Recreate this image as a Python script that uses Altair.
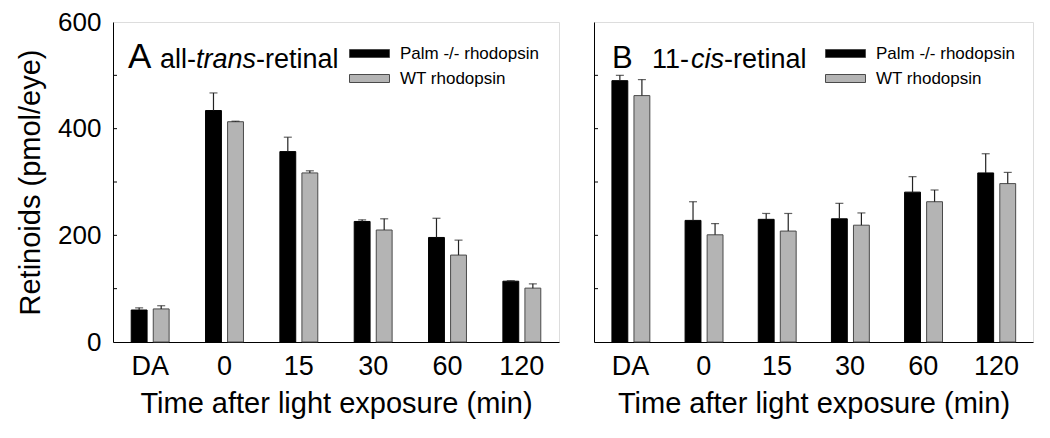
import altair as alt
import pandas as pd

times = ["DA", "0", "15", "30", "60", "120"]
groups = ["Palm -/- rhodopsin", "WT rhodopsin"]

a_palm = [60, 434, 357, 226, 196, 114]
a_palm_err = [4, 33, 27, 3, 36, 1]
a_wt = [62, 413, 317, 210, 163, 101]
a_wt_err = [6, 1, 4, 21, 28, 8]

b_palm = [490, 228, 230, 231, 281, 317]
b_palm_err = [10, 35, 11, 29, 29, 36]
b_wt = [462, 201, 208, 219, 263, 297]
b_wt_err = [30, 21, 33, 23, 22, 21]

minor_ticks = [100, 200, 300, 400, 500]
y_labels = [0, 200, 400, 600]

FONT = "Liberation Sans"


def make_df(palm, palm_err, wt, wt_err):
    rows = []
    for i, t in enumerate(times):
        rows.append({"time": t, "group": groups[0], "value": palm[i], "upper": palm[i] + palm_err[i]})
        rows.append({"time": t, "group": groups[1], "value": wt[i], "upper": wt[i] + wt_err[i]})
    return pd.DataFrame(rows)


def panel(df, width, letter, letter_size, pre, ital, post, xs, show_y, legend_x):
    x = alt.X("time:N", sort=times,
              scale=alt.Scale(paddingInner=0.49, paddingOuter=0.245),
              axis=alt.Axis(title="Time after light exposure (min)", labelAngle=0, ticks=False,
                            labelPadding=11, titlePadding=10, labelFontSize=27, titleFontSize=29,
                            labelFont=FONT, titleFont=FONT, labelColor="black", titleColor="black",
                            titleFontWeight="normal", domainColor="black"))
    xo = alt.XOffset("group:N", sort=groups, scale=alt.Scale(paddingInner=0.28, paddingOuter=0))
    if show_y:
        yaxis = alt.Axis(title="Retinoids (pmol/eye)", values=y_labels, ticks=False, grid=False,
                         labelPadding=12, titlePadding=12, labelFontSize=26, titleFontSize=29,
                         labelFont=FONT, titleFont=FONT, labelColor="black", titleColor="black",
                         titleFontWeight="normal", domainColor="black")
    else:
        yaxis = alt.Axis(title=None, labels=False, ticks=False, grid=False, domainColor="black")
    y = alt.Y("value:Q", scale=alt.Scale(domain=[0, 600], nice=False), axis=yaxis)

    base = alt.Chart(df)
    bars = base.mark_bar(strokeWidth=1).encode(
        x=x, xOffset=xo, y=y,
        color=alt.Color("group:N", sort=groups,
                        scale=alt.Scale(domain=groups, range=["#000000", "#b4b4b4"]),
                        legend=alt.Legend(title=None, orient="none", legendX=legend_x, legendY=23,
                                          symbolType="M-2.5,-0.5H2.5V0.5H-2.5Z", symbolSize=256,
                                          symbolStrokeColor="#4a4a4a", symbolStrokeWidth=1,
                                          labelFontSize=17, labelFont=FONT, labelColor="black",
                                          labelOffset=22, rowPadding=7, padding=0,
                                          symbolOpacity=1)),
        stroke=alt.Stroke("group:N", sort=groups,
                          scale=alt.Scale(domain=groups, range=["#000000", "#4a4a4a"]),
                          legend=None),
    )
    err = base.mark_rule(color="#222222", strokeWidth=1.2).encode(
        x=alt.X("time:N", sort=times), xOffset=xo, y="value:Q", y2="upper:Q")
    caps = base.mark_tick(color="#222222", thickness=1.2, size=8, orient="horizontal").encode(
        x=alt.X("time:N", sort=times), xOffset=xo, y="upper:Q")

    tdf = pd.DataFrame({"v": minor_ticks})
    ticks = alt.Chart(tdf).mark_rule(color="black", strokeWidth=1).encode(
        y="v:Q", x=alt.value(0), x2=alt.value(4))

    def txt(s, xpos, size, style="normal"):
        return alt.Chart(pd.DataFrame({"s": [s]})).mark_text(
            align="left", baseline="alphabetic", fontSize=size, font=FONT,
            fontStyle=style, color="black").encode(
            text="s:N", x=alt.value(xpos), y=alt.value(46))

    labels = [txt(letter, xs[0], letter_size), txt(pre, xs[1], 27),
              txt(ital, xs[2], 27, "italic"), txt(post, xs[3], 27)]

    return alt.layer(bars, err, caps, ticks, *labels).properties(width=width, height=320)


dfa = make_df(a_palm, a_palm_err, a_wt, a_wt_err)
dfb = make_df(b_palm, b_palm_err, b_wt, b_wt_err)

pa = panel(dfa, 446, "A", 35, "all-", "trans", "-retinal", [15, 47, 83, 143], True, 248)
pb = panel(dfb, 439, "B", 31, "11-", "cis", "-retinal", [18, 58, 97, 130], False, 243)

chart = alt.hconcat(pa, pb, spacing=33).resolve_legend(color="independent").configure_view(
    stroke="black", strokeWidth=1).properties(
    padding={"left": 8, "top": 0, "right": 5, "bottom": 5}).configure(background="white")

chart.save("out.html", embed_options={"renderer": "svg", "actions": False})
